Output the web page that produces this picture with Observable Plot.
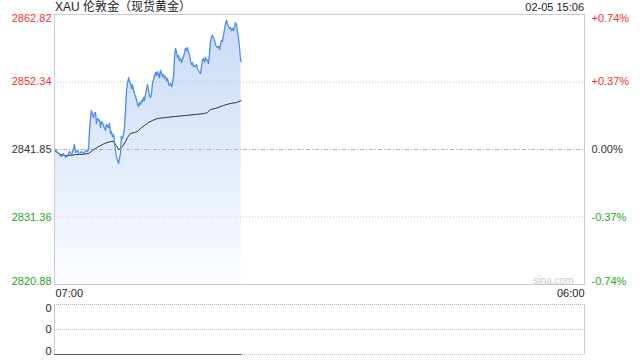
<!DOCTYPE html>
<html>
<head>
<meta charset="utf-8">
<script src="https://cdn.jsdelivr.net/npm/d3@7"></script>
<script src="https://cdn.jsdelivr.net/npm/@observablehq/plot@0.6"></script>
<style>
  html, body { margin: 0; padding: 0; background: #fff; }
  body { width: 640px; height: 360px; position: relative; overflow: hidden;
         font-family: "Liberation Sans", Arial, "Noto Sans CJK SC", sans-serif; }
  #title { position: absolute; left: 55px; top: 0px; font-size: 12px; line-height: 14px; color: #222; }
  #stamp { position: absolute; right: 56px; top: 1px; font-size: 11px; line-height: 13px; color: #222; }
  #main { position: absolute; left: 0; top: 0; }
  #vol { position: absolute; left: 0; top: 300px; }
</style>
</head>
<body>
<div id="main"></div>
<div id="vol"></div>
<div id="title">XAU 伦敦金（现货黄金）</div>
<div id="stamp">02-05 15:06</div>
<script>
// ---- data ----
const prevClose = 2841.85;
const sessionStart = "07:00";
const sessionEnd = "06:00";
const sessionMinutes = 1380; // 07:00 -> 06:00 next day

// price line: minutes after 07:00, price
const priceMinutes = [0,3,8,13,18,23,29,34,39,44,49,52,55,60,65,70,76,81,86,89,91,94,96,99,102,104,107,109,112,117,120,122,125,130,133,135,141,143,146,148,151,154,156,159,161,164,167,169,172,174,177,180,182,185,187,190,193,195,198,201,203,206,208,211,214,216,219,221,224,227,229,232,234,237,240,242,245,247,250,253,255,258,260,263,266,268,271,273,276,279,281,284,286,289,292,294,297,299,302,305,307,310,312,315,318,320,323,325,328,331,333,336,339,341,344,346,349,352,354,357,359,362,365,367,370,372,375,378,380,383,385,388,391,393,396,398,401,404,406,409,411,414,417,419,422,424,427,430,432,435,437,440,443,445,448,450,453,456,458,461,463,466,469,471,474,477,479,482,484,486];
const prices = [2841.85,2841.69,2841.38,2841.07,2840.76,2841.23,2840.61,2840.92,2841.54,2840.92,2841.85,2842.63,2841.38,2841.69,2841.07,2841.54,2841.23,2841.69,2841.54,2842.01,2844.80,2846.66,2847.91,2847.29,2846.82,2847.44,2847.60,2845.89,2846.66,2846.35,2845.27,2846.20,2846.04,2845.11,2844.80,2845.73,2845.27,2845.89,2844.34,2844.65,2843.87,2844.18,2842.94,2841.69,2840.76,2840.14,2839.68,2840.45,2841.38,2843.87,2843.56,2844.34,2845.11,2847.91,2850.70,2852.10,2853.03,2852.57,2851.94,2851.32,2851.94,2851.01,2850.55,2850.08,2849.46,2848.84,2848.53,2849.15,2848.84,2849.46,2849.31,2849.93,2849.46,2850.39,2851.32,2851.94,2851.01,2850.24,2849.93,2850.70,2852.10,2852.72,2853.19,2853.81,2853.34,2853.97,2853.50,2853.03,2854.12,2853.66,2853.19,2853.50,2852.88,2853.19,2852.57,2852.88,2852.10,2851.79,2852.10,2851.63,2852.10,2853.19,2855.67,2857.54,2856.92,2856.14,2856.45,2855.67,2855.98,2855.36,2855.83,2856.29,2856.92,2857.54,2857.23,2857.69,2856.92,2856.45,2855.52,2855.05,2855.36,2854.74,2854.90,2854.74,2855.05,2854.43,2854.12,2853.81,2853.66,2854.74,2855.67,2855.98,2855.36,2856.14,2855.83,2855.67,2855.21,2856.92,2858.47,2859.40,2859.56,2859.25,2858.78,2858.16,2857.85,2857.69,2857.85,2857.38,2858.16,2858.78,2858.62,2859.56,2860.64,2861.26,2861.89,2861.42,2860.95,2860.64,2860.80,2860.33,2860.64,2860.33,2860.95,2861.57,2861.26,2859.87,2859.25,2857.54,2855.98,2855.52];

// average price line
const avgMinutes = [0,8,16,29,42,55,68,89,99,115,130,146,154,161,167,172,177,185,190,198,208,216,224,234,245,255,268,289,315,341,367,391,398,406,419,440,458,474,486];
const avgPrices = [2841.69,2841.38,2841.07,2840.92,2840.92,2841.07,2841.07,2841.23,2841.69,2842.32,2842.78,2843.09,2843.09,2842.47,2841.85,2842.01,2842.32,2843.09,2843.71,2844.34,2844.49,2844.65,2845.11,2845.58,2846.04,2846.35,2846.66,2846.82,2846.98,2847.13,2847.29,2847.44,2847.60,2848.06,2848.22,2848.69,2849.00,2849.15,2849.46];

// axis ticks
const priceTicks = [2862.82, 2852.34, 2841.85, 2831.36, 2820.88];
const priceTickLabels = ["2862.82", "2852.34", "2841.85", "2831.36", "2820.88"];
const pctTickLabels = ["+0.74%", "+0.37%", "0.00%", "-0.37%", "-0.74%"];

// volume panel
const volMinutes = [0, 486];
const volumes = [0, 0];
const volTicks = [2, 1, 0];
const volTickLabels = ["0", "0", "0"];

// ---- build ----
const RED = "#f23030", GREEN = "#22a822", NEUTRAL = "#333";
const tickColor = v => v > prevClose ? RED : v < prevClose ? GREEN : NEUTRAL;

const priceData = priceMinutes.map((m, i) => ({m, p: prices[i]}));
const avgData = avgMinutes.map((m, i) => ({m, p: avgPrices[i]}));
const ticks = priceTicks.map((v, i) => ({v, label: priceTickLabels[i], pct: pctTickLabels[i], color: tickColor(v)}));
const yMax = priceTicks[0], yMin = priceTicks[priceTicks.length - 1];

const fontFamily = '"Liberation Sans", Arial, "Noto Sans CJK SC", sans-serif';

const gradientDefs = () => {
  const ns = "http://www.w3.org/2000/svg";
  const defs = document.createElementNS(ns, "defs");
  const g = document.createElementNS(ns, "linearGradient");
  g.setAttribute("id", "areaGrad");
  g.setAttribute("x1", "0"); g.setAttribute("x2", "0");
  g.setAttribute("y1", "0"); g.setAttribute("y2", "1");
  [["0%", "#c8dbf8"], ["55%", "#e3ecfb"], ["100%", "#fcfdff"]].forEach(([o, c]) => {
    const s = document.createElementNS(ns, "stop");
    s.setAttribute("offset", o); s.setAttribute("stop-color", c);
    g.appendChild(s);
  });
  defs.appendChild(g);
  return defs;
};

const midTicks = ticks.filter((d, i) => i > 0 && i < ticks.length - 1);
const topTicks = [ticks[0]];
const botTicks = [ticks[ticks.length - 1]];

const labelMarks = [];
for (const [data, anchor] of [[topTicks, "top"], [midTicks, "middle"], [botTicks, "bottom"]]) {
  labelMarks.push(Plot.text(data, {y: "v", text: "label", fill: "color", frameAnchor: "left", textAnchor: "end", lineAnchor: anchor, dx: -3, fontSize: 11}));
  labelMarks.push(Plot.text(data, {y: "v", text: "pct", fill: "color", frameAnchor: "right", textAnchor: "start", lineAnchor: anchor, dx: 7, fontSize: 11}));
}

const mainChart = Plot.plot({
  width: 640, height: 300,
  marginTop: 14, marginBottom: 16, marginLeft: 54, marginRight: 56,
  style: {fontFamily, fontSize: "11px", background: "transparent"},
  x: {domain: [0, sessionMinutes], axis: null},
  y: {domain: [yMin, yMax], axis: null},
  color: {type: "identity"},
  marks: [
    gradientDefs,
    Plot.areaY(priceData, {x: "m", y1: yMin, y2: "p", fill: "url(#areaGrad)"}),
    Plot.ruleY([priceTicks[1], priceTicks[3]], {stroke: "#c8c8c8", strokeDasharray: "1,2"}),
    Plot.ruleY([prevClose], {stroke: "#b0b0b0", strokeDasharray: "4,2,1,2"}),
    Plot.line(avgData, {x: "m", y: "p", stroke: "#333", strokeWidth: 1}),
    Plot.line(priceData, {x: "m", y: "p", stroke: "#4b8cf0", strokeWidth: 1.3}),
    Plot.frame({stroke: "#cccccc"}),
    ...labelMarks,
    Plot.text([sessionStart], {text: d => d, frameAnchor: "bottom-left", textAnchor: "start", lineAnchor: "middle", dx: 1, dy: 9, fill: "#222", fontSize: 11}),
    Plot.text([sessionEnd], {text: d => d, frameAnchor: "bottom-right", textAnchor: "end", lineAnchor: "middle", dx: 0, dy: 9, fill: "#222", fontSize: 11}),
    Plot.text(["sina.com"], {text: d => d, frameAnchor: "bottom-right", textAnchor: "end", lineAnchor: "bottom", dx: -11, dy: -1, fill: "#c8c8c8", fontSize: 10})
  ]
});
document.getElementById("main").appendChild(mainChart);

const volTickData = volTicks.map((v, i) => ({v, label: volTickLabels[i]}));
const volData = volMinutes.map((m, i) => ({m, v: volumes[i]}));
const volChart = Plot.plot({
  width: 640, height: 60,
  marginTop: 4, marginBottom: 6, marginLeft: 54, marginRight: 56,
  style: {fontFamily, fontSize: "11px", background: "transparent"},
  x: {domain: [0, sessionMinutes], axis: null},
  y: {domain: [0, 2], axis: null},
  marks: [
    Plot.ruleY(volTicks, {stroke: "#bbbbbb", strokeDasharray: "1,1"}),
    Plot.ruleX([0, sessionMinutes], {stroke: "#cccccc"}),
    Plot.line(volData, {x: "m", y: "v", stroke: "#555", strokeWidth: 1}),
    Plot.text([volTickData[0]], {y: "v", text: "label", frameAnchor: "left", textAnchor: "end", lineAnchor: "top", dx: -3, fill: "#222", fontSize: 11}),
    Plot.text([volTickData[1]], {y: "v", text: "label", frameAnchor: "left", textAnchor: "end", lineAnchor: "middle", dx: -3, fill: "#222", fontSize: 11}),
    Plot.text([volTickData[2]], {y: "v", text: "label", frameAnchor: "left", textAnchor: "end", lineAnchor: "bottom", dx: -3, fill: "#222", fontSize: 11})
  ]
});
document.getElementById("vol").appendChild(volChart);
</script>
</body>
</html>
